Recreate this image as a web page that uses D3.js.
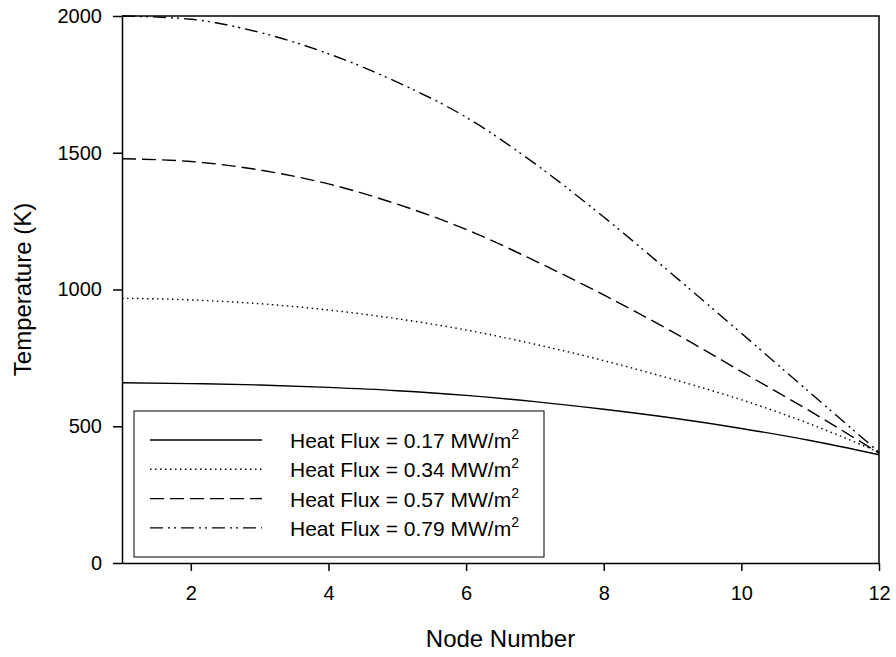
<!DOCTYPE html>
<html>
<head>
<meta charset="utf-8">
<script src="https://cdn.jsdelivr.net/npm/d3@7"></script>
<style>
  body { margin: 0; background: #fff; }
  svg text { font-family: "Liberation Sans", Arial, sans-serif; fill: #000; }
</style>
</head>
<body>
<svg id="plot" width="896" height="657"></svg>
<script>
const nodes = [1, 2, 3, 4, 5, 6, 7, 8, 9, 10, 11, 12];
const flux017 = [659, 656, 651, 642, 630, 613, 590, 562, 530, 492, 448, 396];
const flux034 = [968, 962, 948, 925, 893, 852, 800, 740, 672, 597, 508, 405];
const flux057 = [1478, 1468, 1437, 1386, 1312, 1220, 1105, 980, 845, 700, 555, 402];
const flux079 = [2000, 1988, 1940, 1862, 1758, 1630, 1460, 1265, 1055, 840, 622, 405];
const seriesLabels = ['0.17', '0.34', '0.57', '0.79'];
const xTicks = [2, 4, 6, 8, 10, 12];
const yTicks = [0, 500, 1000, 1500, 2000];

const series = [flux017, flux034, flux057, flux079].map((vals, i) => ({
  label: seriesLabels[i],
  values: vals.map((v, j) => ({ x: nodes[j], y: v }))
}));
const dashes = [null, '1.5,3.5', '14,6', '13,5,2,4,2,5'];

const svg = d3.select('#plot');
const margin = { top: 16, right: 17, bottom: 94, left: 122 };
const width = +svg.attr('width');
const height = +svg.attr('height');
const innerWidth = width - margin.left - margin.right;
const innerHeight = height - margin.top - margin.bottom;

const g = svg.append('g')
  .attr('transform', `translate(${margin.left}, ${margin.top})`);

const xScale = d3.scaleLinear().domain([1, 12]).range([0, innerWidth]);
const yScale = d3.scaleLinear().domain([0, 2000]).range([innerHeight, 0]);

const axisStyle = AxisG => {
  AxisG.selectAll('.domain').attr('stroke-width', 1.5);
  AxisG.selectAll('line').attr('stroke-width', 1.5);
  AxisG.selectAll('text').attr('font-size', 20);
};

g.append('g')
  .attr('transform', `translate(0, ${innerHeight})`)
  .call(d3.axisBottom(xScale).tickValues(xTicks).tickFormat(d3.format('d'))
    .tickSize(8).tickPadding(15).tickSizeOuter(0))
  .call(axisStyle);

g.append('g')
  .call(d3.axisLeft(yScale).tickValues(yTicks).tickFormat(d3.format('d'))
    .tickSize(9).tickPadding(11).tickSizeOuter(0))
  .call(axisStyle);

// top and right frame
g.append('path')
  .attr('d', `M0,0H${innerWidth}V${innerHeight}`)
  .attr('fill', 'none')
  .attr('stroke', '#000')
  .attr('stroke-width', 1.5);

const line = d3.line()
  .x(d => xScale(d.x))
  .y(d => yScale(d.y))
  .curve(d3.curveMonotoneX);

g.selectAll('.series').data(series)
  .enter().append('path')
    .attr('class', 'series')
    .attr('fill', 'none')
    .attr('stroke', '#000')
    .attr('stroke-width', 1.4)
    .attr('stroke-dasharray', (d, i) => dashes[i])
    .attr('d', d => line(d.values));

// legend
const legend = svg.append('g').attr('transform', 'translate(134, 411)');
legend.append('rect')
  .attr('width', 410)
  .attr('height', 146)
  .attr('fill', '#fff')
  .attr('stroke', '#000')
  .attr('stroke-width', 1);

const rows = legend.selectAll('.row').data(series)
  .enter().append('g')
    .attr('class', 'row')
    .attr('transform', (d, i) => `translate(0, ${29 + i * 29.3})`);
rows.append('line')
  .attr('x1', 16).attr('x2', 128)
  .attr('stroke', '#000')
  .attr('stroke-width', 1.4)
  .attr('stroke-dasharray', (d, i) => dashes[i]);
const txt = rows.append('text')
  .attr('x', 156)
  .attr('y', 8)
  .attr('font-size', 21);
txt.append('tspan').text(d => `Heat Flux = ${d.label} MW/m`);
txt.append('tspan').attr('dy', -9).attr('font-size', 14).text('2');

svg.append('text')
  .attr('x', margin.left + innerWidth / 2)
  .attr('y', 647)
  .attr('text-anchor', 'middle')
  .attr('font-size', 24)
  .text('Node Number');

svg.append('text')
  .attr('transform', `translate(31, ${margin.top + innerHeight / 2}) rotate(-90)`)
  .attr('text-anchor', 'middle')
  .attr('font-size', 24)
  .text('Temperature (K)');
</script>
</body>
</html>
